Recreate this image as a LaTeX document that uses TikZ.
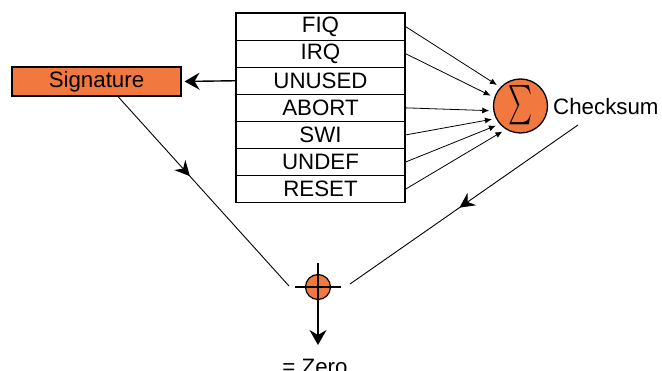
\documentclass[tikz,border=0pt]{standalone}
\usepackage{fontspec}
\setmainfont{Liberation Sans}
\usepackage{graphicx}
\usetikzlibrary{arrows.meta,decorations.markings}
\definecolor{vecorange}{RGB}{241,121,64}
\begin{document}
\begin{tikzpicture}[x=1pt,y=-1pt,
		font=\fontsize{22.3}{26}\selectfont,
		row/.style={draw,line width=1.1pt,minimum width=169pt,minimum height=27.1pt,inner sep=0pt},
		bigtip/.style={-{Stealth[length=15pt,width=17pt,inset=5pt]}},
		midtip/.style={postaction={decorate},decoration={markings,mark=at position #1 with {\arrow{Stealth[length=15pt,width=15pt,inset=5pt]}}}}]
	\useasboundingbox (0,0) rectangle (662,371);
	% vector table
	\foreach \nm/\txt [count=\i] in {fiq/FIQ,irq/IRQ,unused/UNUSED,abort/ABORT,swi/SWI,undef/UNDEF,reset/RESET}
		\node[row] (\nm) at (320.5,13+27.1*\i-13.55) {\txt};
	\node[draw,line width=1.1pt,fill=vecorange,minimum width=169pt,minimum height=29pt,inner sep=0pt] (sig) at (96.5,81.5) {Signature};
	\node[circle,draw,line width=1.3pt,fill=vecorange,minimum size=54pt,inner sep=0pt] (sum) at (520.5,106) {\resizebox*{24pt}{40pt}{$\textstyle\sum$}};
	\node[anchor=west,inner sep=0pt] (chk) at (553,107) {Checksum};
	\node[circle,draw,line width=1.2pt,fill=vecorange,minimum size=25pt,inner sep=0pt] (cross) at (318,287) {};
	\node[anchor=base,inner sep=0pt] (zero) at (315,375) {= Zero};
	\coordinate (lin) at (289,286);
	\coordinate (rin) at (350,284);
	\coordinate (chkout) at (578,125);
	% arrows
	\draw[bigtip,line width=1.4pt,shorten >=3pt] (unused.west) -- (sig.east);
	\foreach \nm/\ang in {fiq/137,irq/162,abort/190,swi/207,undef/221,reset/238}
		\draw[-{Latex[length=7pt,width=6pt]},line width=0.8pt,shorten >=4pt] (\nm.east) -- (sum.\ang);
	\draw[line width=0.9pt,midtip=0.42] ([xshift=21.5pt]sig.south) -- (lin);
	\draw[line width=0.9pt,midtip=0.52] (chkout) -- (rin);
	\draw[line width=1.2pt] ([xshift=-10pt]cross.west) -- ([xshift=10pt]cross.east);
	\draw[line width=1.2pt] ([yshift=11pt]cross.north) -- (cross.south);
	\draw[bigtip,line width=1.4pt] (cross.south) -- (318,345);
\end{tikzpicture}
\end{document}
